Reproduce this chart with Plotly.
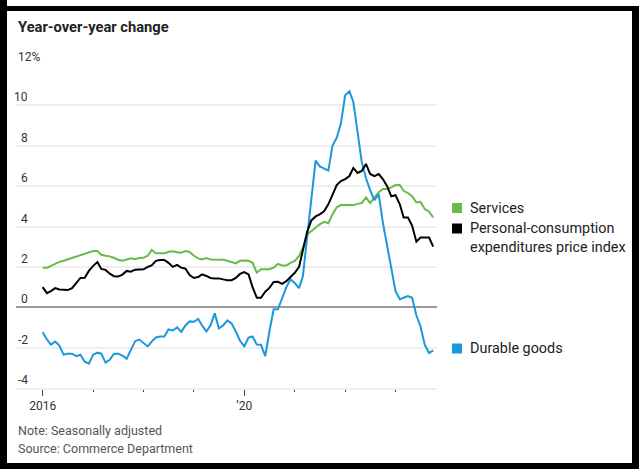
import pandas as pd
import plotly.graph_objects as go

# monthly year-over-year change, Jan 2016 - Oct 2023
months = pd.date_range("2016-01-01", periods=94, freq="MS")

services = [
    1.96, 1.96, 2.05, 2.15, 2.25, 2.30, 2.37, 2.42, 2.48, 2.55, 2.62, 2.72,
    2.79, 2.79, 2.60, 2.55, 2.52, 2.45, 2.35, 2.30, 2.37, 2.43, 2.38, 2.44,
    2.45, 2.55, 2.84, 2.67, 2.67, 2.67, 2.75, 2.77, 2.72, 2.70, 2.79, 2.74,
    2.55, 2.42, 2.37, 2.44, 2.37, 2.37, 2.37, 2.35, 2.30, 2.22, 2.17, 2.30,
    2.32, 2.30, 2.20, 1.71, 1.88, 1.88, 1.88, 1.96, 2.15, 2.07, 2.07, 2.20,
    2.30, 2.54, 2.95, 3.60, 3.78, 3.95, 4.11, 4.23, 4.16, 4.60, 4.95, 5.06,
    5.06, 5.06, 5.06, 5.12, 5.16, 5.44, 5.16, 5.44, 5.69, 5.86, 5.86, 5.94,
    6.05, 6.05, 5.77, 5.66, 5.50, 5.19, 5.22, 4.86, 4.73, 4.45,
]

pce = [
    1.00, 0.70, 0.80, 0.95, 0.88, 0.85, 0.85, 0.95, 1.20, 1.45, 1.46, 1.80,
    2.05, 2.24, 1.90, 1.85, 1.66, 1.54, 1.52, 1.62, 1.80, 1.76, 1.86, 1.88,
    1.88, 2.00, 2.07, 2.30, 2.34, 2.34, 2.20, 2.00, 2.10, 1.96, 1.91, 1.60,
    1.45, 1.50, 1.63, 1.55, 1.45, 1.43, 1.43, 1.38, 1.34, 1.34, 1.45, 1.65,
    1.74, 1.63, 1.00, 0.47, 0.47, 0.77, 0.96, 1.25, 1.26, 1.16, 1.29, 1.50,
    1.71, 2.00, 2.80, 3.75, 4.30, 4.50, 4.60, 4.75, 5.10, 5.60, 6.05, 6.25,
    6.35, 6.50, 6.90, 6.65, 6.75, 7.10, 6.60, 6.50, 6.60, 6.35, 6.00, 5.50,
    5.55, 5.10, 4.45, 4.45, 4.05, 3.25, 3.45, 3.45, 3.45, 3.00,
]

durable = [
    -1.24, -1.60, -1.85, -1.70, -1.90, -2.35, -2.30, -2.30, -2.42, -2.35, -2.70, -2.80,
    -2.35, -2.25, -2.30, -2.74, -2.60, -2.30, -2.30, -2.40, -2.55, -2.10, -1.68, -1.60,
    -1.75, -1.94, -1.70, -1.50, -1.45, -1.45, -1.10, -1.15, -1.00, -1.22, -0.90, -0.70,
    -0.72, -0.58, -0.90, -1.20, -0.90, -0.30, -1.05, -0.90, -0.65, -0.80, -1.20, -1.66,
    -1.94, -1.50, -1.45, -1.85, -1.86, -2.42, -1.20, -0.10, -0.10, 0.40, 1.00, 1.38,
    1.20, 0.95, 1.54, 3.50, 5.40, 7.26, 6.98, 6.86, 6.77, 8.00, 8.40, 9.10,
    10.50, 10.70, 10.17, 8.67, 7.20, 6.40, 5.80, 5.30, 5.60, 4.20, 3.00, 2.00,
    0.80, 0.40, 0.47, 0.55, 0.47, -0.40, -0.95, -1.86, -2.27, -2.14,
]

names = ["Services", "Personal-consumption", "expenditures price index", "Durable goods"]
y_ticks = [12, 10, 8, 6, 4, 2, 0, -2, -4]
x_tickvals = ["2016-01-01", "2020-01-01"]
x_ticktext = ["2016", "\u201920"]

GREEN = "#67bb46"
BLUE = "#1a98db"
BLACK = "#000000"
FONT = "Roboto"

# plot area in pixels: left 16, right 437, top 65, bottom 388
L, R, T, B = 16, 437, 65, 388


def px(x):
    return (x - L) / (R - L)


def py(y):
    return (B - y) / (B - T)


fig = go.Figure()
for vals, color in [(services, GREEN), (durable, BLUE), (pce, BLACK)]:
    fig.add_trace(
        go.Scatter(x=months, y=vals, mode="lines",
                   line=dict(color=color, width=2), hoverinfo="skip")
    )

annotations = []
for v in y_ticks:
    if v == 12:
        annotations.append(dict(x=px(16), y=v, xref="paper", yref="y", text="12%",
                                showarrow=False, xanchor="left", yanchor="bottom",
                                yshift=-1, font=dict(size=12, color="#333")))
    else:
        annotations.append(dict(x=px(29.5), y=v, xref="paper", yref="y", text=str(v),
                                showarrow=False, xanchor="right", yanchor="bottom",
                                yshift=-1, font=dict(size=12, color="#333")))

annotations.append(dict(x=px(16), y=py(27), xref="paper", yref="paper",
                        text="<b>Year-over-year change</b>", showarrow=False,
                        xanchor="left", yanchor="middle",
                        font=dict(size=14.7, color="#222")))
annotations.append(dict(x=px(16), y=py(430.5), xref="paper", yref="paper",
                        text="Note: Seasonally adjusted", showarrow=False,
                        xanchor="left", yanchor="middle",
                        font=dict(size=12.5, color="#555")))
annotations.append(dict(x=px(16), y=py(448.5), xref="paper", yref="paper",
                        text="Source: Commerce Department", showarrow=False,
                        xanchor="left", yanchor="middle",
                        font=dict(size=12.5, color="#555")))

# legend
legend_rows = [(names[0], 208, GREEN), (names[1], 228.5, BLACK),
               (names[2], 247, None), (names[3], 348.5, BLUE)]
shapes = []
for text, yc, color in legend_rows:
    annotations.append(dict(x=px(468), y=py(yc), xref="paper", yref="paper",
                            text=text, showarrow=False, xanchor="left",
                            yanchor="middle", font=dict(size=14.4, color="#222")))
    if color:
        shapes.append(dict(type="rect", xref="paper", yref="paper",
                           x0=px(452), x1=px(462), y0=py(yc - 5), y1=py(yc + 5),
                           fillcolor=color, line=dict(width=0)))

# black frame
for x0, x1, y0, y1 in [(0, 7, 0, 469), (0, 639, 6, 11), (632, 639, 6, 469), (0, 639, 463, 469)]:
    shapes.append(dict(type="rect", xref="paper", yref="paper",
                       x0=px(x0), x1=px(x1), y0=py(y0), y1=py(y1),
                       fillcolor="black", line=dict(width=0), layer="above"))

fig.update_layout(
    width=641,
    height=469,
    margin=dict(l=L, r=641 - R, t=T, b=469 - B, pad=0),
    paper_bgcolor="white",
    plot_bgcolor="white",
    showlegend=False,
    font=dict(family=FONT, color="#333"),
    annotations=annotations,
    shapes=shapes,
)
fig.update_xaxes(
    range=["2015-06-22", "2023-10-28 12:00"],
    tickmode="array",
    tickvals=x_tickvals,
    ticktext=x_ticktext,
    ticks="outside",
    ticklen=6,
    tickwidth=1,
    tickcolor="#444",
    tickfont=dict(size=12, color="#333"),
    minor=dict(dtick="M12", tick0="2016-01-01", ticks="outside", ticklen=2,
               tickwidth=1, tickcolor="#444", showgrid=False),
    showgrid=False,
    showline=True,
    linecolor="#eeeeee",
    linewidth=2,
    zeroline=False,
)
fig.update_yaxes(
    range=[-4, 12],
    tickvals=y_ticks,
    showticklabels=False,
    showgrid=True,
    gridcolor="#efefef",
    gridwidth=2,
    zeroline=True,
    zerolinecolor="#999999",
    zerolinewidth=2,
    fixedrange=True,
)

# page body has a default 8px margin; drop it so the figure sits at the window corner
fig.write_html(
    "out.html",
    config={"displayModeBar": False},
    post_script="document.body.style.margin='0';",
)
